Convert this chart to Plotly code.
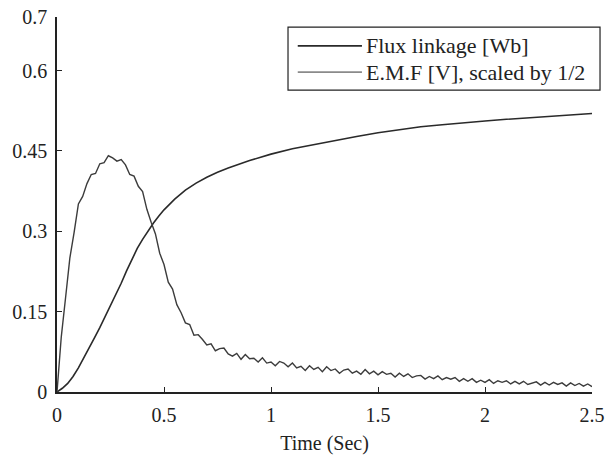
import numpy as np
import plotly.graph_objects as go

# Flux linkage [Wb] sampled over time (s)
flux_t = [0.0, 0.025, 0.05, 0.075, 0.1, 0.125, 0.15, 0.175, 0.2, 0.225, 0.25, 0.275, 0.3,
          0.325, 0.35, 0.375, 0.4, 0.425, 0.45, 0.475, 0.5, 0.55, 0.6, 0.65, 0.7, 0.75, 0.8,
          0.9, 1.0, 1.1, 1.2, 1.3, 1.4, 1.5, 1.6, 1.7, 1.8, 1.9, 2.0, 2.1, 2.2, 2.3, 2.4, 2.5]
flux_v = [0.0, 0.007, 0.016, 0.029, 0.045, 0.063, 0.082, 0.101, 0.120, 0.140, 0.160, 0.182,
          0.203, 0.226, 0.248, 0.268, 0.285, 0.301, 0.315, 0.328, 0.340, 0.360, 0.377, 0.390,
          0.401, 0.410, 0.418, 0.432, 0.444, 0.454, 0.462, 0.470, 0.477, 0.484, 0.490, 0.495,
          0.499, 0.503, 0.506, 0.509, 0.512, 0.515, 0.517, 0.520]

# E.M.F [V] (scaled by 1/2), one sample every 0.02 s
emf_step = 0.02
emf_v = [0.000, 0.103, 0.176, 0.250, 0.298, 0.351, 0.365, 0.389, 0.406, 0.408,
         0.426, 0.428, 0.441, 0.437, 0.431, 0.434, 0.424, 0.406, 0.403, 0.384,
         0.374, 0.341, 0.317, 0.295, 0.259, 0.238, 0.205, 0.192, 0.163, 0.148,
         0.129, 0.126, 0.106, 0.107, 0.098, 0.088, 0.090, 0.077, 0.081, 0.082,
         0.071, 0.067, 0.072, 0.061, 0.070, 0.062, 0.063, 0.056, 0.064, 0.054,
         0.056, 0.049, 0.057, 0.054, 0.047, 0.054, 0.045, 0.048, 0.040, 0.049,
         0.042, 0.046, 0.038, 0.047, 0.040, 0.043, 0.035, 0.041, 0.043, 0.035,
         0.039, 0.033, 0.042, 0.034, 0.039, 0.032, 0.038, 0.033, 0.035, 0.028,
         0.035, 0.029, 0.034, 0.027, 0.030, 0.031, 0.024, 0.029, 0.025, 0.030,
         0.023, 0.027, 0.024, 0.027, 0.020, 0.025, 0.020, 0.025, 0.018, 0.022,
         0.018, 0.023, 0.016, 0.021, 0.018, 0.021, 0.015, 0.020, 0.015, 0.020,
         0.014, 0.017, 0.019, 0.013, 0.018, 0.013, 0.018, 0.014, 0.017, 0.011,
         0.017, 0.012, 0.016, 0.011, 0.015, 0.010]
emf_t = np.round(np.arange(len(emf_v)) * emf_step, 4)

x_ticks = [0, 0.5, 1, 1.5, 2, 2.5]
x_tick_text = ["0", "0.5", "1", "1.5", "2", "2.5"]
y_ticks = [0, 0.15, 0.3, 0.45, 0.6, 0.7]
y_tick_text = ["0", "0.15", "0.3", "0.45", "0.6", "0.7"]

FONT = "Liberation Serif, Times New Roman, serif"
FLUX_COLOR = "#2a2a2a"
EMF_COLOR = "#3c3c3c"
EMF_LEGEND_COLOR = "#8a8a8a"

fig = go.Figure()
fig.add_trace(go.Scatter(x=flux_t, y=flux_v, mode="lines", name="Flux linkage [Wb]",
                         line=dict(color=FLUX_COLOR, width=1.6), showlegend=False))
fig.add_trace(go.Scatter(x=emf_t, y=emf_v, mode="lines", name="E.M.F [V], scaled by 1/2",
                         line=dict(color=EMF_COLOR, width=1.4), showlegend=False))

# Legend box drawn in paper coordinates
fig.add_shape(type="rect", xref="paper", yref="paper", x0=0.4318, x1=1.015, y0=0.805, y1=0.973,
              line=dict(color="#222", width=1.2), fillcolor="white", layer="above")
legend_rows = [("Flux linkage [Wb]", FLUX_COLOR, 0.923),
               ("E.M.F [V], scaled by 1/2", EMF_LEGEND_COLOR, 0.853)]
for label, color, yy in legend_rows:
    fig.add_shape(type="line", xref="paper", yref="paper", x0=0.450, x1=0.570, y0=yy, y1=yy,
                  line=dict(color=color, width=1.6), layer="above")
    fig.add_annotation(xref="paper", yref="paper", x=0.578, y=yy, text=label, showarrow=False,
                       xanchor="left", yanchor="middle", xshift=-2,
                       font=dict(family=FONT, size=22, color="#222"))

fig.update_layout(
    width=608, height=457,
    margin=dict(l=57, r=16, t=17, b=65),
    plot_bgcolor="white", paper_bgcolor="white",
    font=dict(family=FONT, size=20, color="#222"),
    xaxis=dict(range=[0, 2.5], tickvals=x_ticks, ticktext=x_tick_text, ticks="inside",
               ticklen=5, tickcolor="#222", showline=True, linecolor="#222", linewidth=1.5,
               showgrid=False, zeroline=False, ticklabelstandoff=4, automargin=False,
               title=dict(text="Time (Sec)", font=dict(family=FONT, size=20), standoff=11)),
    yaxis=dict(range=[0, 0.7], tickvals=y_ticks, ticktext=y_tick_text, ticks="inside",
               ticklen=5, tickcolor="#222", showline=True, linecolor="#222", linewidth=1.5,
               showgrid=False, zeroline=False, ticklabelstandoff=4, automargin=False),
)

fig.write_html("out.html")
